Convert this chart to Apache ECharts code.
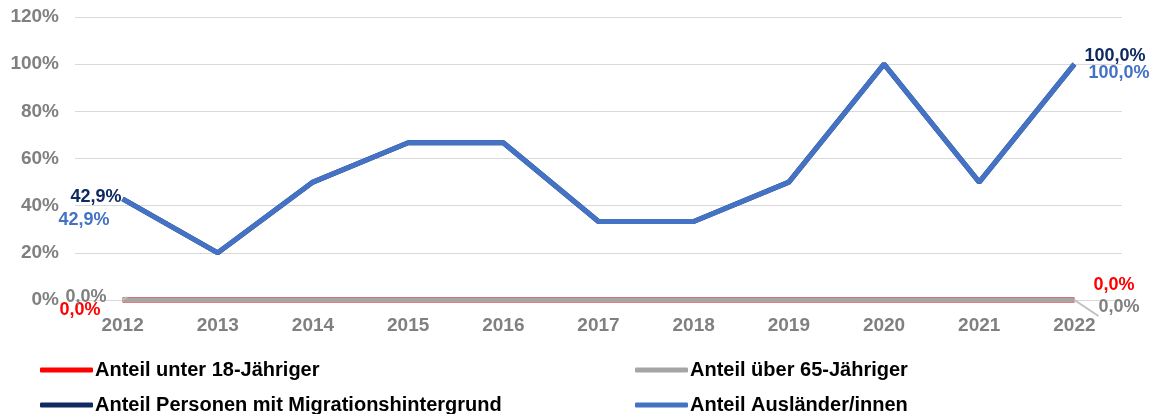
<!DOCTYPE html>
<html>
<head>
<meta charset="utf-8">
<script src="https://cdn.jsdelivr.net/npm/echarts@6/dist/echarts.min.js"></script>
<style>
  html, body { margin: 0; padding: 0; background: #fff; }
  #chart { width: 1153px; height: 414px; }
</style>
</head>
<body>
<div id="chart"></div>
<script>
// Jahre und Anteile (in %)
const years = ['2012', '2013', '2014', '2015', '2016', '2017', '2018', '2019', '2020', '2021', '2022'];
const unter18 = [0, 0, 0, 0, 0, 0, 0, 0, 0, 0, 0];
const ueber65 = [0, 0, 0, 0, 0, 0, 0, 0, 0, 0, 0];
const migration = [42.9, 20, 50, 66.7, 66.7, 33.3, 33.3, 50, 100, 50, 100];
const auslaender = [42.9, 20, 50, 66.7, 66.7, 33.3, 33.3, 50, 100, 50, 100];
const yTicks = [0, 20, 40, 60, 80, 100, 120];

const FONT = '"Liberation Sans", Arial, sans-serif';
const fmt = v => v.toFixed(1).replace('.', ',') + '%';

// Beschriftet nur den ersten und letzten Punkt einer Reihe
function endLabels(values, color, first, last) {
  return values.map((v, i) => {
    const item = { value: v };
    const cfg = i === 0 ? first : (i === values.length - 1 ? last : null);
    if (cfg) {
      item.label = Object.assign({
        show: true, color: color, fontFamily: FONT, fontWeight: 'bold', fontSize: 18,
        formatter: p => fmt(p.value)
      }, cfg);
    }
    return item;
  });
}

function lineSeries(name, color, width, z, data) {
  return {
    name: name, type: 'line', z: z,
    symbol: 'circle', symbolSize: 0, showSymbol: true,
    lineStyle: { color: color, width: width }, itemStyle: { color: color },
    emphasis: { disabled: true },
    data: data
  };
}

const legendText = { color: '#000', fontFamily: FONT, fontWeight: 'bold', fontSize: 20, padding: [0, 0, 0, -3] };

const chart = echarts.init(document.getElementById('chart'), null, { renderer: 'canvas' });

chart.setOption({
  animation: false,
  backgroundColor: '#ffffff',
  grid: { left: 75, right: 31, top: 17, bottom: 114 },
  xAxis: {
    type: 'category',
    data: years,
    boundaryGap: true,
    axisLine: { show: false },
    axisTick: { show: false },
    axisLabel: { color: '#808080', fontFamily: FONT, fontWeight: 'bold', fontSize: 19, margin: 16 }
  },
  yAxis: {
    type: 'value',
    min: yTicks[0],
    max: yTicks[yTicks.length - 1],
    interval: yTicks[1] - yTicks[0],
    axisLine: { show: false },
    axisTick: { show: false },
    splitLine: { lineStyle: { color: '#d9d9d9', width: 1 } },
    axisLabel: { color: '#808080', fontFamily: FONT, fontWeight: 'bold', fontSize: 19, margin: 16,
      formatter: '{value}%' }
  },
  legend: [
    {
      orient: 'vertical', left: 40, top: 360, height: 100, padding: 0, itemGap: 15,
      itemWidth: 53, itemHeight: 5, icon: 'roundRect',
      textStyle: legendText,
      data: ['Anteil unter 18-Jähriger', 'Anteil Personen mit Migrationshintergrund']
    },
    {
      orient: 'vertical', left: 635, top: 360, height: 100, padding: 0, itemGap: 15,
      itemWidth: 53, itemHeight: 5, icon: 'roundRect',
      textStyle: legendText,
      data: ['Anteil über 65-Jähriger', 'Anteil Ausländer/innen']
    }
  ],
  series: [
    lineSeries('Anteil unter 18-Jähriger', '#ff0000', 5.5, 2, endLabels(unter18, '#ff0000',
      { position: 'left', offset: [-17, 10] },
      { position: 'right', offset: [14, -15] })),
    Object.assign(lineSeries('Anteil über 65-Jähriger', '#a5a5a5', 5, 3, endLabels(ueber65, '#808080',
      { position: 'left', offset: [-11, -3] },
      { position: 'right', offset: [19, 7] })),
      { labelLine: { show: true, lineStyle: { color: '#bfbfbf', width: 2 } } }),
    lineSeries('Anteil Personen mit Migrationshintergrund', '#0f2a60', 5, 4, endLabels(migration, '#0f2a60',
      { position: 'left', offset: [4, -2] },
      { position: 'right', offset: [5, -8] })),
    lineSeries('Anteil Ausländer/innen', '#4472c4', 5, 5, endLabels(auslaender, '#4472c4',
      { position: 'left', offset: [-8, 21] },
      { position: 'right', offset: [9, 9] }))
  ]
});
</script>
</body>
</html>
